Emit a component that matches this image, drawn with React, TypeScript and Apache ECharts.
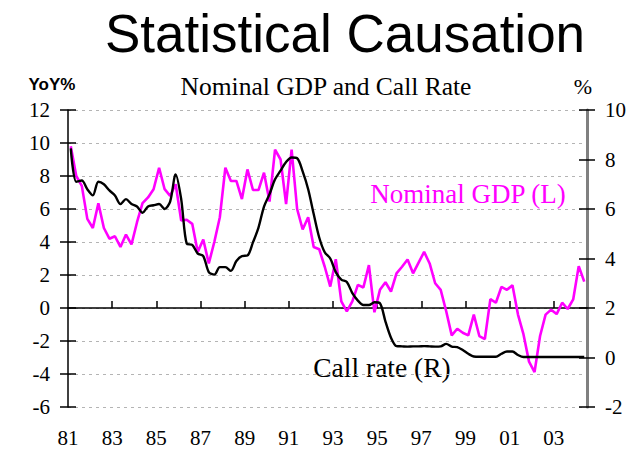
import { useEffect, useRef } from "react";
import * as echarts from "echarts";

// Quarterly observations, 1981Q1 .. 2004Q2
const startYear = 1981;

// Nominal GDP, YoY % (left axis)
const gdpYoY = [
  9.8, 8.0, 7.4, 5.4, 4.85, 6.35, 4.85, 4.2, 4.35, 3.7,
  4.45, 3.85, 5.2, 6.35, 6.7, 7.2, 8.5, 7.2, 6.8, 7.5,
  5.3, 5.35, 5.1, 3.4, 4.15, 2.7, 4.0, 5.5, 8.5, 7.7,
  7.7, 6.6, 8.4, 7.15, 7.15, 8.2, 6.45, 9.6, 9.0, 6.3,
  9.6, 6.0, 4.76, 5.5, 3.7, 3.56, 2.5, 1.3, 2.96, 0.4,
  -0.2, 0.4, 1.4, 1.24, 2.6, -0.26, 1.1, 1.56, 1.0, 2.1,
  2.5, 2.94, 2.1, 2.75, 3.4, 2.7, 1.5, 1.1, -0.2, -1.66,
  -1.26, -1.5, -1.66, -0.4, -1.7, -1.88, 0.54, 0.32, 1.28, 1.1,
  1.38, -0.4, -1.6, -3.25, -3.88, -1.7, -0.4, -0.1, -0.37, 0.32,
  -0.06, 0.52, 2.54, 1.6,
];

// Call rate, % (right axis)
const callRate = [
  8.45, 7.1, 7.15, 6.8, 6.55, 7.1, 7.0, 6.75, 6.55, 6.2,
  6.4, 6.2, 6.1, 5.85, 6.1, 6.15, 6.2, 6.0, 6.3, 7.4,
  6.4, 4.6, 4.55, 4.2, 4.1, 3.45, 3.35, 3.65, 3.65, 3.5,
  3.9, 4.1, 4.12, 4.65, 5.25, 6.1, 6.6, 7.2, 7.55, 7.9,
  8.08, 8.05, 7.52, 6.8, 5.8, 4.85, 4.25, 4.0, 3.45, 3.15,
  3.05, 2.6, 2.3, 2.12, 2.12, 2.23, 2.19, 1.45, 0.8, 0.46,
  0.45, 0.44, 0.45, 0.45, 0.46, 0.45, 0.44, 0.45, 0.55, 0.44,
  0.42, 0.3, 0.15, 0.04, 0.03, 0.03, 0.03, 0.03, 0.15, 0.24,
  0.24, 0.1, 0.02, 0.02, 0.02, 0.02, 0.02, 0.02, 0.02, 0.02,
  0.02, 0.02, 0.02, 0.02,
];

const yearTicks = [1981, 1983, 1985, 1987, 1989, 1991, 1993, 1995, 1997, 1999, 2001, 2003];

const SERIF = "Liberation Serif, Times New Roman, serif";
const SANS = "Liberation Sans, Arial, sans-serif";

export default function App() {
  const ref = useRef<HTMLDivElement>(null);

  useEffect(() => {
    const chart = echarts.init(ref.current!, null, { renderer: "svg" });
    const xOf = (i: number) => startYear + 0.125 + 0.25 * i;
    const gdpData = gdpYoY.map((v, i) => [xOf(i), v]);
    const callData = callRate.map((v, i) => [xOf(i), v]);

    const labelStyle = { fontSize: 21, color: "#000", fontFamily: SERIF };
    const tickStyle = { color: "#000", width: 1.5 };

    chart.setOption({
      animation: false,
      backgroundColor: "#fff",
      textStyle: { fontFamily: SERIF },
      grid: { left: 68, right: 48, top: 110, bottom: 47, containLabel: false },
      xAxis: [
        {
          type: "value",
          min: 1981,
          max: 2004.5,
          position: "bottom",
          axisLine: { show: false, onZero: false },
          axisTick: { show: false },
          splitLine: { show: false },
          axisLabel: {
            ...labelStyle,
            margin: 20,
            customValues: yearTicks,
            formatter: (v: number) => String(Math.round(v)).slice(2),
          },
        },
        {
          type: "value",
          min: 1981,
          max: 2004.5,
          position: "top",
          axisLine: { show: true, onZero: true, onZeroAxisIndex: 0, lineStyle: tickStyle },
          axisTick: { show: true, customValues: yearTicks.slice(1), length: 7, lineStyle: tickStyle },
          axisLabel: { show: false },
          splitLine: { show: false },
        },
      ],
      yAxis: [
        {
          type: "value",
          position: "left",
          min: -6,
          max: 12,
          interval: 2,
          axisLine: { show: true, onZero: false, lineStyle: tickStyle },
          axisTick: { show: true, length: 8, lineStyle: tickStyle },
          axisLabel: { ...labelStyle, margin: 18 },
          splitLine: { show: true, lineStyle: { color: "#b4b4b4", type: [3, 4], width: 1 } },
        },
        {
          type: "value",
          position: "right",
          min: -2,
          max: 10,
          interval: 2,
          axisLine: { show: true, onZero: false, lineStyle: { color: "#808080", width: 3 } },
          axisTick: { show: true, length: 8, lineStyle: tickStyle },
          axisLabel: { ...labelStyle, margin: 18 },
          splitLine: { show: false },
        },
        {
          type: "value",
          position: "left",
          offset: 0,
          min: -6,
          max: 12,
          interval: 2,
          axisLine: { show: false, onZero: false },
          axisTick: { show: true, inside: true, length: 8, lineStyle: tickStyle },
          axisLabel: { show: false },
          splitLine: { show: false },
        },
        {
          type: "value",
          position: "right",
          offset: 0,
          min: -2,
          max: 10,
          interval: 2,
          axisLine: { show: false, onZero: false },
          axisTick: { show: true, inside: true, length: 8, lineStyle: tickStyle },
          axisLabel: { show: false },
          splitLine: { show: false },
        },
      ],
      series: [
        {
          name: "Nominal GDP (L)",
          type: "line",
          xAxisIndex: 0,
          yAxisIndex: 0,
          data: gdpData,
          showSymbol: false,
          lineStyle: { color: "#ff00ff", width: 2.6 },
          z: 3,
        },
        {
          name: "Call rate (R)",
          type: "line",
          xAxisIndex: 0,
          yAxisIndex: 1,
          data: callData,
          showSymbol: false,
          smooth: 0.3,
          lineStyle: { color: "#000", width: 2.4 },
          z: 4,
        },
      ],
      graphic: [
        {
          type: "text",
          x: 345,
          y: 33,
          style: {
            text: "Statistical Causation",
            font: `normal 53px ${SANS}`,
            fill: "#000",
            textAlign: "center",
            textVerticalAlign: "middle",
          },
        },
        {
          type: "text",
          x: 326,
          y: 86,
          style: {
            text: "Nominal GDP and Call Rate",
            font: `normal 25.5px ${SERIF}`,
            fill: "#000",
            textAlign: "center",
            textVerticalAlign: "middle",
          },
        },
        {
          type: "text",
          x: 52,
          y: 84,
          style: {
            text: "YoY%",
            font: `bold 17px ${SANS}`,
            fill: "#000",
            textAlign: "center",
            textVerticalAlign: "middle",
          },
        },
        {
          type: "text",
          x: 583,
          y: 86,
          style: {
            text: "%",
            font: `normal 22px ${SERIF}`,
            fill: "#000",
            textAlign: "center",
            textVerticalAlign: "middle",
          },
        },
        {
          type: "text",
          x: 468,
          y: 194,
          style: {
            text: "Nominal GDP (L)",
            font: `normal 27px ${SERIF}`,
            fill: "#ff00ff",
            textAlign: "center",
            textVerticalAlign: "middle",
          },
        },
        {
          type: "text",
          x: 382,
          y: 367,
          style: {
            text: "Call rate (R)",
            font: `normal 27.5px ${SERIF}`,
            fill: "#000",
            textAlign: "center",
            textVerticalAlign: "middle",
          },
        },
      ],
    });

    return () => chart.dispose();
  }, []);

  return (
    <div
      ref={ref}
      style={{ position: "absolute", left: 0, top: 0, width: 635, height: 454 }}
    />
  );
}
